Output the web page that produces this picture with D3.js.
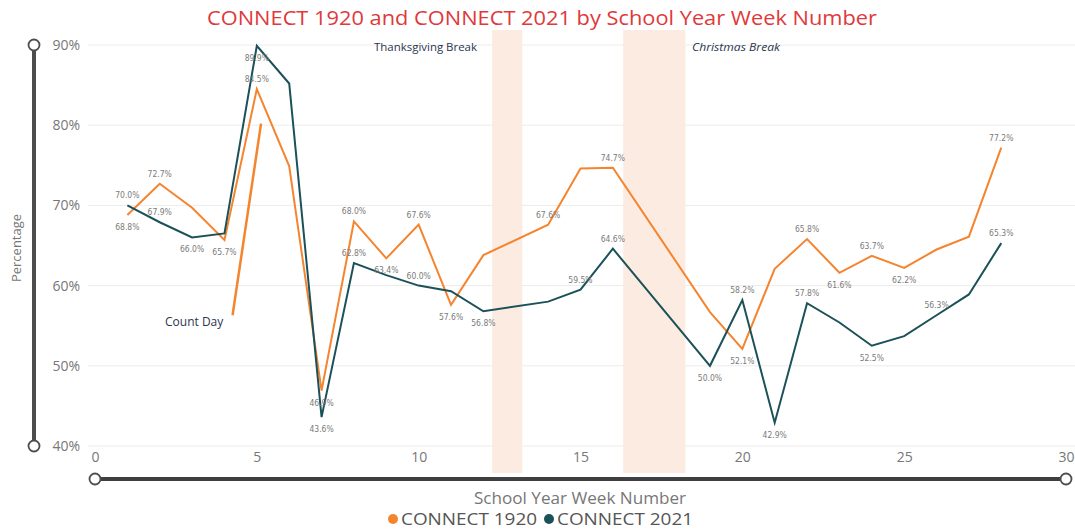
<!DOCTYPE html>
<meta charset="utf-8">
<style>
body { margin: 0; background: #fff; }
text { font-family: "Open Sans", "Noto Sans", sans-serif; }
.grid line { stroke: #ececec; stroke-width: 1; }
.lbl { font-family: "DejaVu Sans Condensed", "Noto Sans", sans-serif; font-size: 8.5px; fill: #7a7a7a; }
.tick text { fill: #777; font-size: 14px; }
</style>
<body>
<script src="https://d3js.org/d3.v7.min.js"></script>
<script>
// week numbers with data (13, 17, 18 are break weeks)
var weeks = [1, 2, 3, 4, 5, 6, 7, 8, 9, 10, 11, 12, 14, 15, 16, 19, 20, 21, 22, 23, 24, 25, 26, 27, 28];
var connect1920 = [68.8, 72.7, 69.7, 65.7, 84.5, 74.9, 46.9, 68.0, 63.4, 67.6, 57.6, 63.8, 67.6, 74.6, 74.7,
                   56.7, 52.1, 62.1, 65.8, 61.6, 63.7, 62.2, 64.5, 66.1, 77.2];
var connect2021 = [70.0, 67.9, 66.0, 66.5, 89.9, 85.2, 43.6, 62.8, 61.3, 60.0, 59.3, 56.8, 58.0, 59.5, 64.6,
                   50.0, 58.2, 42.9, 57.8, 55.4, 52.5, 53.7, 56.3, 58.9, 65.3];

// which points carry a data label, and on which side
var labels1920 = {1: "below", 2: "above", 4: "below", 5: "above", 7: "below", 8: "above", 9: "below", 10: "above",
                  11: "below", 14: "above", 16: "above", 20: "below", 22: "above", 23: "below", 24: "above",
                  25: "below", 28: "above"};
var labels2021 = {1: "above", 2: "above", 3: "below", 5: "below", 7: "below", 8: "above", 10: "above", 12: "below",
                  15: "above", 16: "above", 19: "below", 20: "above", 21: "below", 22: "above", 24: "below",
                  26: "above", 28: "above"};

var breaks = [
  {name: "Thanksgiving Break", from: 12.27, to: 13.2},
  {name: "Christmas Break", from: 16.32, to: 18.24}
];
// "Count Day" marker segment (week, percent)
var countDay = [[4.25, 56.3], [5.13, 80.2]];

var xTicks = [0, 5, 10, 15, 20, 25, 30];
var yTicks = [40, 50, 60, 70, 80, 90];

var colors = {c1920: "#f5842e", c2021: "#1b5158"};

var W = 1075, H = 531;
var svg = d3.select("body").append("svg").attr("width", W).attr("height", H);

var x = d3.scaleLinear().domain([0, 30]).range([95, 1066]);
var y = d3.scaleLinear().domain([40, 90]).range([446, 45]);

// title
svg.append("text")
  .attr("x", 207).attr("y", 25)
  .attr("textLength", 670)
  .attr("lengthAdjust", "spacingAndGlyphs")
  .style("font-size", "20px")
  .style("fill", "#e0393b")
  .text("CONNECT 1920 and CONNECT 2021 by School Year Week Number");

// gridlines
svg.append("g").attr("class", "grid")
  .selectAll("line").data(yTicks).enter().append("line")
  .attr("x1", 88).attr("x2", W)
  .attr("y1", function(d) { return y(d); })
  .attr("y2", function(d) { return y(d); });

// break shading
svg.selectAll(".brk").data(breaks).enter().append("rect")
  .attr("class", "brk")
  .attr("x", function(d) { return x(d.from); })
  .attr("width", function(d) { return x(d.to) - x(d.from); })
  .attr("y", 30).attr("height", 443)
  .style("fill", "#fcebe1");

svg.append("text").attr("x", 374).attr("y", 51)
  .attr("textLength", 103).attr("lengthAdjust", "spacingAndGlyphs")
  .style("font-size", "11px").style("fill", "#2b3550")
  .text(breaks[0].name);
svg.append("text").attr("x", 692).attr("y", 51)
  .attr("textLength", 88).attr("lengthAdjust", "spacingAndGlyphs")
  .style("font-size", "11px").style("fill", "#2b3550").style("font-style", "italic")
  .text(breaks[1].name);

// y axis
var yAxis = d3.axisLeft(y).tickValues(yTicks).tickSize(0).tickPadding(8)
  .tickFormat(function(d) { return d + "%"; });
var gy = svg.append("g").attr("transform", "translate(88,0)").call(yAxis);
gy.select(".domain").remove();

// x axis
var xAxis = d3.axisBottom(x).tickValues(xTicks).tickSize(0).tickPadding(4);
var gx = svg.append("g").attr("transform", "translate(0,448)").call(xAxis);
gx.select(".domain").remove();

// slider bars
svg.append("line").attr("x1", 34).attr("x2", 34).attr("y1", y(90)).attr("y2", y(40))
  .style("stroke", "#4d4d4d").style("stroke-width", 4);
svg.append("line").attr("x1", x(0)).attr("x2", x(30)).attr("y1", 479).attr("y2", 479)
  .style("stroke", "#3f3f3f").style("stroke-width", 4);
var knobs = [[34, y(90)], [34, y(40)], [x(0), 479], [x(30), 479]];
svg.selectAll(".knob").data(knobs).enter().append("circle")
  .attr("class", "knob")
  .attr("cx", function(d) { return d[0]; })
  .attr("cy", function(d) { return d[1]; })
  .attr("r", 5.5)
  .style("fill", "#fff").style("stroke", "#4d4d4d").style("stroke-width", 1.8);

// axis titles
svg.append("text")
  .attr("transform", "translate(21,248) rotate(-90)")
  .attr("text-anchor", "middle")
  .style("font-size", "13px").style("fill", "#777")
  .text("Percentage");
svg.append("text")
  .attr("x", 474).attr("y", 504)
  .attr("textLength", 212).attr("lengthAdjust", "spacingAndGlyphs")
  .style("font-size", "16px").style("fill", "#777")
  .text("School Year Week Number");

// series
var series = [
  {key: "CONNECT 1920", vals: connect1920, color: colors.c1920, labels: labels1920},
  {key: "CONNECT 2021", vals: connect2021, color: colors.c2021, labels: labels2021}
];

var line = d3.line()
  .x(function(d) { return x(d[0]); })
  .y(function(d) { return y(d[1]); });

series.forEach(function(s) {
  var pts = weeks.map(function(w, i) { return [w, s.vals[i]]; });
  svg.append("path").datum(pts)
    .attr("d", line)
    .style("fill", "none")
    .style("stroke", s.color)
    .style("stroke-width", 2)
    .style("stroke-linejoin", "miter");
});

// count day marker
svg.append("path").datum(countDay)
  .attr("d", line)
  .style("fill", "none").style("stroke", colors.c1920).style("stroke-width", 2.5);
svg.append("text").attr("x", 165).attr("y", 326)
  .style("font-size", "12px").style("fill", "#2b3550")
  .text("Count Day");

// data labels
series.forEach(function(s) {
  weeks.forEach(function(w, i) {
    var side = s.labels[w];
    if (!side) return;
    svg.append("text")
      .attr("class", "lbl")
      .attr("x", x(w))
      .attr("y", y(s.vals[i]) + (side === "above" ? -7 : 15))
      .attr("text-anchor", "middle")
      .text(s.vals[i].toFixed(1) + "%");
  });
});

// legend
var leg = svg.append("g").attr("transform", "translate(0,519)");
var legX = [393, 549];
series.forEach(function(s, i) {
  leg.append("circle").attr("cx", legX[i]).attr("cy", 0).attr("r", 5).style("fill", s.color);
  leg.append("text").attr("x", legX[i] + 8).attr("y", 6)
    .attr("textLength", 136).attr("lengthAdjust", "spacingAndGlyphs")
    .style("font-size", "16px").style("fill", "#555")
    .text(s.key);
});
</script>
</body>
